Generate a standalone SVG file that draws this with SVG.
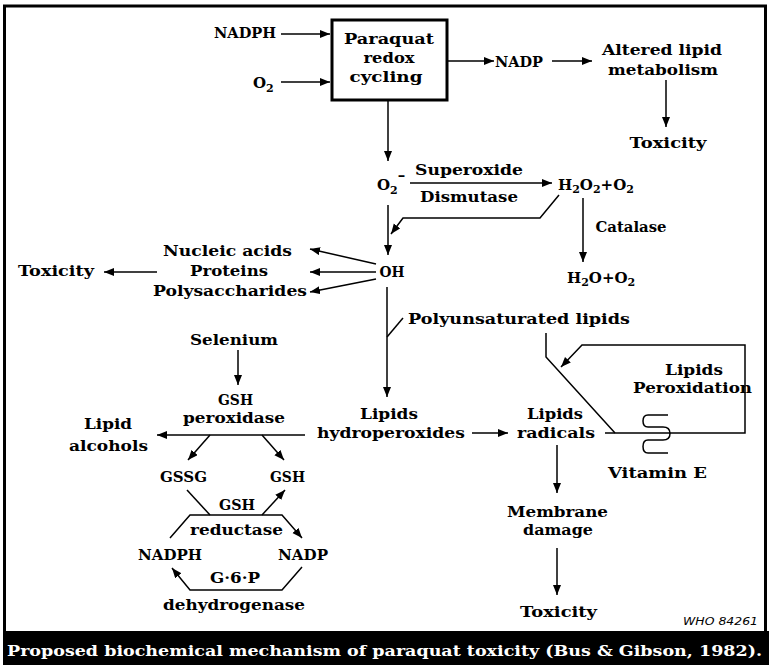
<svg xmlns="http://www.w3.org/2000/svg" width="769" height="665" viewBox="0 0 769 665">
<style>
.t{font-family:"DejaVu Serif","Liberation Serif",serif;font-weight:bold;font-size:15px;text-anchor:middle;fill:#000}
.s{font-size:11px}
.c{stroke:#000;stroke-width:1.5;fill:none}
.a{marker-end:url(#ah)}
.w{font-family:"DejaVu Sans","Liberation Sans",sans-serif;font-style:italic;font-size:11px;fill:#000}
.cap{font-family:"DejaVu Serif","Liberation Serif",serif;font-weight:bold;font-size:15px;fill:#fff}
</style>
<defs>
<marker id="ah" markerUnits="userSpaceOnUse" markerWidth="11" markerHeight="9" refX="10" refY="4" orient="auto">
<path d="M0,0 L10,4 L0,8 z" fill="#000"/>
</marker>
</defs>
<rect x="0" y="0" width="769" height="665" fill="#fff"/>
<rect x="4.5" y="6" width="761" height="628" fill="none" stroke="#000" stroke-width="3"/>
<rect x="3" y="631" width="766" height="34" fill="#000"/>

<g id="connectors">
<line class="c a" x1="281" y1="34" x2="330" y2="34"/>
<line class="c a" x1="281" y1="82" x2="330" y2="82"/>
<line class="c a" x1="447" y1="61" x2="494" y2="61"/>
<line class="c a" x1="552" y1="61" x2="592" y2="61"/>
<line class="c a" x1="666" y1="80" x2="666" y2="127"/>
<line class="c a" x1="388" y1="100" x2="388" y2="161"/>
<line class="c a" x1="410" y1="183" x2="552" y2="183"/>
<path class="c a" d="M559,195 L540,218 L403,218 L391,234"/>
<line class="c a" x1="388" y1="205" x2="388" y2="255"/>
<line class="c a" x1="583" y1="198" x2="583" y2="262"/>
<line class="c a" x1="376" y1="264" x2="310" y2="249"/>
<line class="c a" x1="376" y1="272" x2="310" y2="272"/>
<line class="c a" x1="376" y1="279" x2="310" y2="292"/>
<line class="c a" x1="157" y1="272" x2="104" y2="272"/>
<line class="c a" x1="387" y1="287" x2="387" y2="397"/>
<line class="c" x1="387" y1="337" x2="403" y2="318"/>
<path class="c" d="M546,333 L546,357 L615,433"/>
<path class="c a" d="M605,433 L745,433 L745,345 L582,345 L561,367"/>
<line class="c a" x1="472" y1="433" x2="508" y2="433"/>
<line class="c a" x1="557" y1="445" x2="557" y2="493"/>
<line class="c a" x1="557" y1="548" x2="557" y2="595"/>
<line class="c a" x1="238" y1="350" x2="238" y2="385"/>
<line class="c a" x1="305" y1="435" x2="157" y2="435"/>
<line class="c a" x1="210" y1="435" x2="188" y2="460"/>
<line class="c a" x1="262" y1="435" x2="284" y2="460"/>
<line class="c" x1="187" y1="490" x2="210" y2="515"/>
<path class="c a" d="M170,538 L190,515 L282,515 L302,538"/>
<line class="c a" x1="262" y1="515" x2="285" y2="490"/>
<path class="c a" d="M302,567 L282,590 L190,590 L172,568"/>
</g>

<g id="paraquat">
<rect x="332" y="20" width="115" height="80" fill="#fff" stroke="#000" stroke-width="3"/>
<text class="t" x="389" y="44" textLength="90" lengthAdjust="spacingAndGlyphs">Paraquat</text>
<text class="t" x="389" y="63" textLength="51" lengthAdjust="spacingAndGlyphs">redox</text>
<text class="t" x="386" y="82" textLength="73" lengthAdjust="spacingAndGlyphs">cycling</text>
</g>
<g id="nadph-top"><text class="t" x="245" y="38" textLength="62" lengthAdjust="spacingAndGlyphs">NADPH</text></g>
<g id="o2-top"><text class="t" x="253" y="88" style="text-anchor:start">O<tspan class="s" dy="4">2</tspan></text></g>
<g id="nadp-top"><text class="t" x="519" y="67" textLength="48" lengthAdjust="spacingAndGlyphs">NADP</text></g>
<g id="altered">
<text class="t" x="662" y="55" textLength="120" lengthAdjust="spacingAndGlyphs">Altered lipid</text>
<text class="t" x="663" y="75" textLength="110" lengthAdjust="spacingAndGlyphs">metabolism</text>
</g>
<g id="toxicity-1"><text class="t" x="668" y="148" textLength="77" lengthAdjust="spacingAndGlyphs">Toxicity</text></g>
<g id="superoxide-radical"><text class="t" x="377" y="190" style="text-anchor:start">O<tspan class="s" dy="4">2</tspan><tspan dy="-14">–</tspan></text></g>
<g id="sod">
<text class="t" x="469" y="175" textLength="108" lengthAdjust="spacingAndGlyphs">Superoxide</text>
<text class="t" x="469" y="202" textLength="98" lengthAdjust="spacingAndGlyphs">Dismutase</text>
</g>
<g id="h2o2"><text class="t" x="558" y="190" style="text-anchor:start">H<tspan class="s" dy="3">2</tspan><tspan dy="-3">O</tspan><tspan class="s" dy="3">2</tspan><tspan dy="-3">+O</tspan><tspan class="s" dy="3">2</tspan></text></g>
<g id="catalase"><text class="t" x="631" y="232" textLength="71" lengthAdjust="spacingAndGlyphs">Catalase</text></g>
<g id="h2o"><text class="t" x="567" y="283" style="text-anchor:start">H<tspan class="s" dy="3">2</tspan><tspan dy="-3">O+O</tspan><tspan class="s" dy="3">2</tspan></text></g>
<g id="oh"><text class="t" x="392" y="277" textLength="25" lengthAdjust="spacingAndGlyphs">OH</text></g>
<g id="macromolecules">
<text class="t" x="227.5" y="256" textLength="129" lengthAdjust="spacingAndGlyphs">Nucleic acids</text>
<text class="t" x="229" y="276" textLength="78" lengthAdjust="spacingAndGlyphs">Proteins</text>
<text class="t" x="230" y="296" textLength="154" lengthAdjust="spacingAndGlyphs">Polysaccharides</text>
</g>
<g id="toxicity-2"><text class="t" x="56" y="276" textLength="76" lengthAdjust="spacingAndGlyphs">Toxicity</text></g>
<g id="pufa"><text class="t" x="519" y="324" textLength="222" lengthAdjust="spacingAndGlyphs">Polyunsaturated lipids</text></g>
<g id="lipid-peroxidation">
<text class="t" x="694" y="375" textLength="58" lengthAdjust="spacingAndGlyphs">Lipids</text>
<text class="t" x="692.5" y="393" textLength="119" lengthAdjust="spacingAndGlyphs">Peroxidation</text>
</g>
<g id="hydroperoxides">
<text class="t" x="389" y="419" textLength="58" lengthAdjust="spacingAndGlyphs">Lipids</text>
<text class="t" x="391" y="438" textLength="148" lengthAdjust="spacingAndGlyphs">hydroperoxides</text>
</g>
<g id="radicals">
<text class="t" x="555" y="419" textLength="56" lengthAdjust="spacingAndGlyphs">Lipids</text>
<text class="t" x="556" y="438" textLength="78" lengthAdjust="spacingAndGlyphs">radicals</text>
</g>
<g id="vitamin-e">
<path class="c" d="M668,415 L648,415 Q643,415 643,421 Q643,427 648,427 L663,427 Q670,427 670,433.5 Q670,440 663,440 L648,440 Q643,440 643,446.5 Q643,453 648,453 L668,453"/>
<text class="t" x="657.5" y="478" textLength="99" lengthAdjust="spacingAndGlyphs">Vitamin E</text>
</g>
<g id="membrane">
<text class="t" x="557.5" y="517" textLength="101" lengthAdjust="spacingAndGlyphs">Membrane</text>
<text class="t" x="558" y="535" textLength="70" lengthAdjust="spacingAndGlyphs">damage</text>
</g>
<g id="toxicity-3"><text class="t" x="558.5" y="617" textLength="77" lengthAdjust="spacingAndGlyphs">Toxicity</text></g>
<g id="selenium"><text class="t" x="234" y="345" textLength="88" lengthAdjust="spacingAndGlyphs">Selenium</text></g>
<g id="gsh-peroxidase">
<text class="t" x="235.5" y="405" textLength="35" lengthAdjust="spacingAndGlyphs">GSH</text>
<text class="t" x="234" y="423" textLength="102" lengthAdjust="spacingAndGlyphs">peroxidase</text>
</g>
<g id="lipid-alcohols">
<text class="t" x="108" y="429" textLength="48" lengthAdjust="spacingAndGlyphs">Lipid</text>
<text class="t" x="108.5" y="451" textLength="79" lengthAdjust="spacingAndGlyphs">alcohols</text>
</g>
<g id="gssg"><text class="t" x="183.5" y="482" textLength="47" lengthAdjust="spacingAndGlyphs">GSSG</text></g>
<g id="gsh"><text class="t" x="287.5" y="482" textLength="35" lengthAdjust="spacingAndGlyphs">GSH</text></g>
<g id="gsh-reductase">
<text class="t" x="237" y="510" textLength="36" lengthAdjust="spacingAndGlyphs">GSH</text>
<text class="t" x="236.5" y="535" textLength="93" lengthAdjust="spacingAndGlyphs">reductase</text>
</g>
<g id="nadph-bottom"><text class="t" x="170" y="560" textLength="64" lengthAdjust="spacingAndGlyphs">NADPH</text></g>
<g id="nadp-bottom"><text class="t" x="303" y="560" textLength="50" lengthAdjust="spacingAndGlyphs">NADP</text></g>
<g id="g6pd">
<text class="t" x="235" y="583" textLength="50" lengthAdjust="spacingAndGlyphs">G·6·P</text>
<text class="t" x="234" y="610" textLength="142" lengthAdjust="spacingAndGlyphs">dehydrogenase</text>
</g>
<g id="who-label"><text class="w" x="683" y="625" textLength="75" lengthAdjust="spacingAndGlyphs">WHO 84261</text></g>
<g id="caption"><text class="cap" x="7" y="656" textLength="755" lengthAdjust="spacingAndGlyphs">Proposed biochemical mechanism of paraquat toxicity (Bus &amp; Gibson, 1982).</text></g>
</svg>
